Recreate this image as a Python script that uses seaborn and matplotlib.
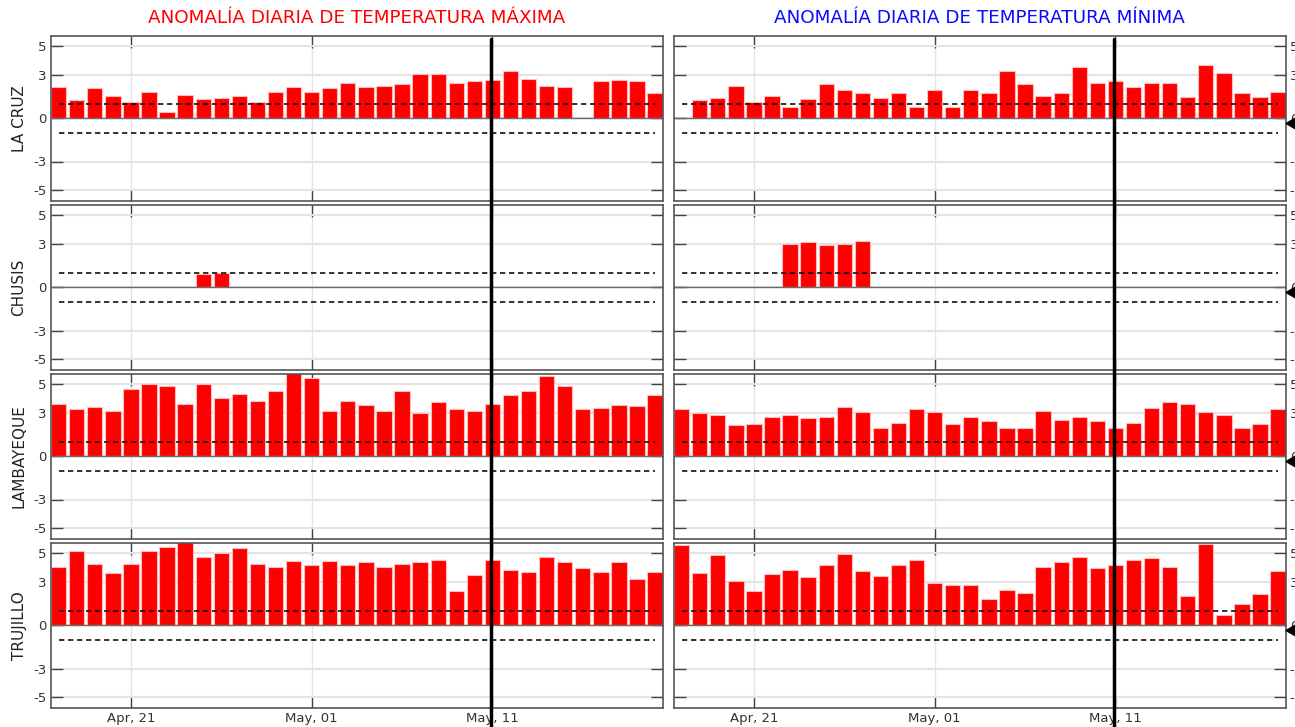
import matplotlib
matplotlib.use("Agg")
import matplotlib.dates as mdates
import matplotlib.pyplot as plt
import numpy as np
import pandas as pd
import seaborn as sns

nan = np.nan

# daily anomalies (deg C), Apr 17 .. May 20
dates = pd.date_range("2024-04-17", "2024-05-20", freq="D")
stations = ["LA CRUZ", "CHUSIS", "LAMBAYEQUE", "TRUJILLO"]

la_cruz_max = [2.16, 1.28, 2.07, 1.56, 1.16, 1.86, 0.47, 1.65, 1.35, 1.44,
               1.56, 1.16, 1.86, 2.16, 1.86, 2.07, 2.47, 2.16, 2.26, 2.37,
               3.05, 3.05, 2.47, 2.58, 2.67, 3.26, 2.74, 2.26, 2.16, nan,
               2.58, 2.67, 2.58, 1.77]
chusis_max = [nan, nan, nan, nan, nan, nan, nan, nan, 0.95, 1.0,
              nan, nan, nan, nan, nan, nan, nan, nan, nan, nan,
              nan, nan, nan, nan, nan, nan, nan, nan, nan, nan,
              nan, nan, nan, nan]
lambayeque_max = [3.66, 3.26, 3.43, 3.13, 4.65, 5.02, 4.86, 3.66, 5.02, 4.05,
                  4.35, 3.87, 4.56, 5.8, 5.46, 3.13, 3.87, 3.56, 3.13, 4.56,
                  2.99, 3.77, 3.26, 3.13, 3.66, 4.26, 4.56, 5.56, 4.86, 3.26,
                  3.36, 3.56, 3.47, 4.26]
trujillo_max = [4.03, 5.16, 4.26, 3.66, 4.26, 5.16, 5.46, 5.8, 4.77, 5.05,
                5.35, 4.26, 4.05, 4.47, 4.19, 4.47, 4.19, 4.38, 4.03, 4.23,
                4.42, 4.54, 2.41, 3.52, 4.54, 3.84, 3.70, 4.72, 4.42, 4.00,
                3.70, 4.42, 3.22, 3.70]

la_cruz_min = [nan, 1.26, 1.44, 2.23, 1.16, 1.56, 0.77, 1.37, 2.37, 1.95,
               1.77, 1.44, 1.77, 0.77, 1.95, 0.77, 1.95, 1.77, 3.28, 2.37,
               1.56, 1.77, 3.56, 2.47, 2.56, 2.16, 2.47, 2.47, 1.47, 3.67,
               3.16, 1.77, 1.47, 1.86]
chusis_min = [nan, nan, nan, nan, nan, nan, 3.0, 3.14, 2.93, 3.02,
              3.23, nan, nan, nan, nan, nan, nan, nan, nan, nan,
              nan, nan, nan, nan, nan, nan, nan, nan, nan, nan,
              nan, nan, nan, nan]
lambayeque_min = [3.26, 2.99, 2.85, 2.15, 2.27, 2.75, 2.85, 2.64, 2.75, 3.45,
                  3.06, 1.94, 2.34, 3.26, 3.06, 2.25, 2.75, 2.45, 1.94, 1.94,
                  3.15, 2.55, 2.75, 2.45, 1.94, 2.34, 3.36, 3.75, 3.66, 3.06,
                  2.85, 1.94, 2.25, 3.26]
trujillo_min = [5.56, 3.66, 4.86, 3.06, 2.36, 3.59, 3.87, 3.36, 4.17, 4.95,
                3.75, 3.45, 4.17, 4.56, 2.96, 2.78, 2.78, 1.85, 2.45, 2.27,
                4.05, 4.38, 4.77, 3.96, 4.17, 4.56, 4.65, 4.05, 2.06, 5.65,
                0.74, 1.46, 2.18, 3.75]

tmax = [la_cruz_max, chusis_max, lambayeque_max, trujillo_max]
tmin = [la_cruz_min, chusis_min, lambayeque_min, trujillo_min]

titles = ["ANOMALÍA DIARIA DE TEMPERATURA MÁXIMA",
          "ANOMALÍA DIARIA DE TEMPERATURA MÍNIMA"]
title_colors = ["#ff0000", "#0a0aff"]
tick_dates = pd.to_datetime(["2024-04-21", "2024-05-01", "2024-05-11"])
today = pd.Timestamp("2024-05-10 22:00")
threshold = 1.0

sns.set_theme(style="white")
plt.rcParams["font.family"] = ["DejaVu Sans"]
plt.rcParams["axes.unicode_minus"] = False

W, H = 1295, 727
fig = plt.figure(figsize=(W / 100, H / 100), dpi=100)

x_num = mdates.date2num(dates)
xlim = (x_num[0] - 0.42, x_num[-1] + 0.42)
panel_left = [51, 674]
panel_w = 611.7
row_h = 165.6

for col, data in enumerate([tmax, tmin]):
    for row, station in enumerate(stations):
        top_px = 35.5 + 169 * row
        ax = fig.add_axes([panel_left[col] / W, 1 - (top_px + row_h) / H,
                           panel_w / W, row_h / H])
        ax.set_axisbelow(True)
        ax.grid(True, axis="y", color="#e4e4e4", lw=1.5)
        ax.grid(True, axis="x", color="#e4e4e4", lw=1)

        df = pd.DataFrame({"fecha": x_num, "anomalia": data[row]}).dropna()
        sns.barplot(data=df, x="fecha", y="anomalia", native_scale=True,
                    width=0.85, color="#ff0000", saturation=1,
                    edgecolor="#ffbdbd", linewidth=0.8, errorbar=None, ax=ax)

        ax.axhline(0, color="#6a6a6a", lw=1, zorder=1)
        for t in (threshold, -threshold):
            ax.plot([x_num[0], x_num[-1]], [t, t], color="#111111", lw=1.2,
                    ls=(0, (3.2, 2.2)), zorder=3)

        ymin = -0.13 if row == 3 else -0.03
        ymax = 0.98 if row == 0 else 1.0
        ax.axvline(mdates.date2num(today), ymin=ymin, ymax=ymax,
                   color="black", lw=2.5, clip_on=False, zorder=4)

        ax.set_xlim(xlim)
        ax.set_ylim(-5.75, 5.75)
        ax.set_yticks([-5, -3, 0, 3, 5])
        ax.set_xticks(mdates.date2num(tick_dates))
        ax.xaxis.set_major_formatter(mdates.DateFormatter("%b, %d"))
        ax.tick_params(direction="in", length=8.5, width=1, color="#444444",
                       top=True, bottom=True, left=True, right=True,
                       labelsize=9.5, labelcolor="#333333", pad=3,
                       labelbottom=(row == 3),
                       labelleft=(col == 0), labelright=(col == 1))
        ax.set_xlabel("")
        ax.set_ylabel("")
        for sp in ax.spines.values():
            sp.set_color("#555555")
            sp.set_linewidth(1.2)

        if col == 0:
            ax.set_ylabel(station, fontsize=11, color="#222222")
            ax.yaxis.set_label_coords(-0.04, 0.5)
        else:
            ax.plot(1.0 + 10 / panel_w, -0.3, marker=(3, 0, 90), ms=15,
                    color="black", transform=ax.get_yaxis_transform(),
                    clip_on=False, zorder=5)

    fig.text((panel_left[col] + panel_w / 2) / W, 1 - 18 / H, titles[col],
             ha="center", va="center", fontsize=13.2, color=title_colors[col])

fig.savefig("out.png", dpi=100)
